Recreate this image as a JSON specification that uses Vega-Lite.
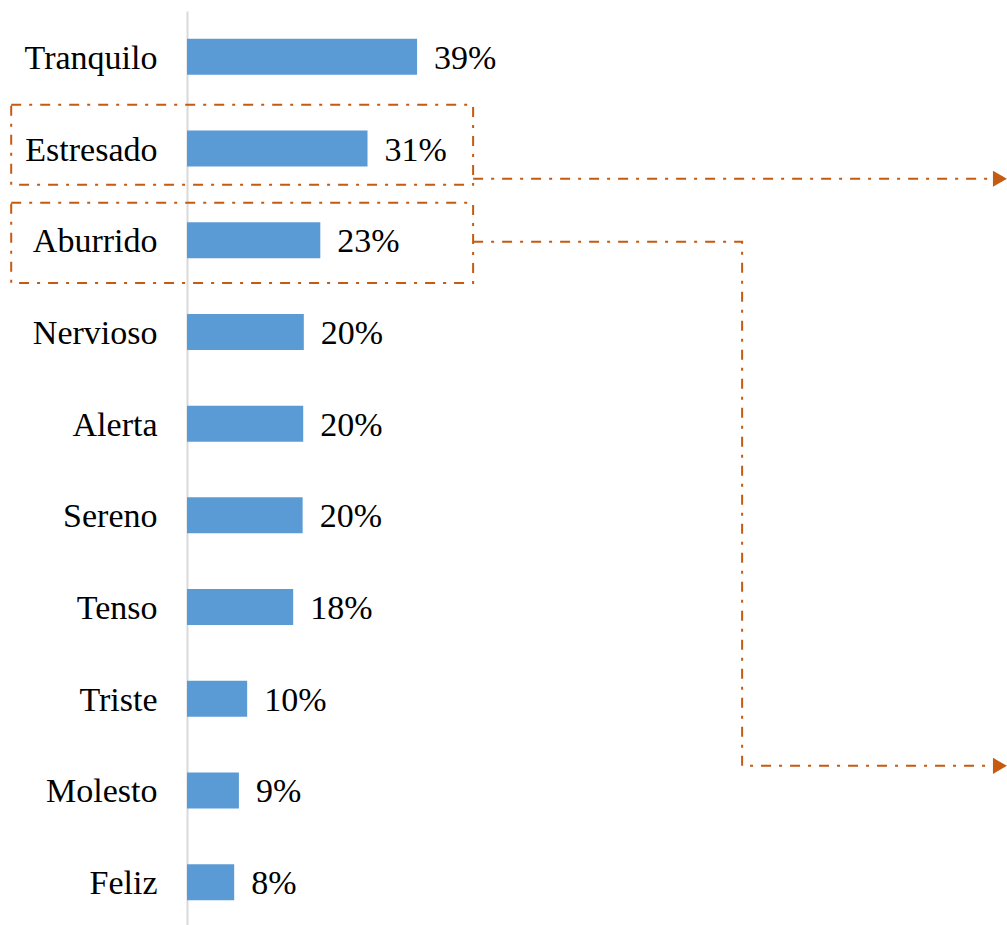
{
  "$schema": "https://vega.github.io/schema/vega-lite/v6.json",
  "autosize": "none",
  "width": 820,
  "height": 917,
  "padding": {"left": 187, "top": 11, "right": 0, "bottom": 0},
  "background": "white",
  "config": {"view": {"stroke": null}, "font": "Liberation Serif"},
  "resolve": {"scale": {"y": "independent"}},
  "layer": [
    {
      "data": {"values": [
        {"emocion": "Tranquilo", "pct": 0.39},
        {"emocion": "Estresado", "pct": 0.306},
        {"emocion": "Aburrido", "pct": 0.226},
        {"emocion": "Nervioso", "pct": 0.198},
        {"emocion": "Alerta", "pct": 0.197},
        {"emocion": "Sereno", "pct": 0.196},
        {"emocion": "Tenso", "pct": 0.18},
        {"emocion": "Triste", "pct": 0.102},
        {"emocion": "Molesto", "pct": 0.088},
        {"emocion": "Feliz", "pct": 0.08}
      ]},
      "encoding": {
        "y": {
          "field": "emocion", "type": "nominal", "sort": null,
          "scale": {"paddingInner": 0.607, "paddingOuter": 0.3035},
          "axis": {
            "title": null, "ticks": false, "labelPadding": 30, "labelOffset": 2,
            "labelFontSize": 34, "labelColor": "#000000", "labelFont": "Liberation Serif",
            "labelLimit": 0, "domainColor": "#D9D9D9", "domainWidth": 2
          }
        },
        "x": {"field": "pct", "type": "quantitative", "scale": {"domain": [0, 1.39], "nice": false}, "axis": null}
      },
      "layer": [
        {"mark": {"type": "bar", "color": "#5B9BD5"}},
        {
          "mark": {"type": "text", "align": "left", "baseline": "middle", "dx": 17, "dy": 2, "fontSize": 34, "color": "#000000", "font": "Liberation Serif"},
          "encoding": {"text": {"field": "pct", "type": "quantitative", "format": ".0%"}}
        }
      ]
    },
    {
      "data": {"values": [
        {"box": "Estresado", "x1": -0.298, "x2": 0.485, "y1": 1.023, "y2": 1.896},
        {"box": "Aburrido", "x1": -0.298, "x2": 0.485, "y1": 2.092, "y2": 2.965}
      ]},
      "mark": {"type": "rect", "fill": null, "stroke": "#C55A11", "strokeWidth": 2, "strokeDash": [10, 8, 3, 8]},
      "encoding": {
        "x": {"field": "x1", "type": "quantitative", "scale": {"domain": [0, 1.39], "nice": false}},
        "x2": {"field": "x2"},
        "y": {"field": "y1", "type": "quantitative", "scale": {"domain": [0, 10], "reverse": true, "nice": false, "zero": false}, "axis": null},
        "y2": {"field": "y2"}
      }
    },
    {
      "data": {"values": [
        {"path": "a", "i": 0, "x": 0.485, "y": 1.830},
        {"path": "a", "i": 1, "x": 1.37, "y": 1.830},
        {"path": "b", "i": 0, "x": 0.485, "y": 2.517},
        {"path": "b", "i": 1, "x": 0.941, "y": 2.517},
        {"path": "b", "i": 2, "x": 0.941, "y": 8.232},
        {"path": "b", "i": 3, "x": 1.37, "y": 8.232}
      ]},
      "mark": {"type": "line", "color": "#C55A11", "strokeWidth": 2, "strokeDash": [10, 8, 3, 8]},
      "encoding": {
        "x": {"field": "x", "type": "quantitative", "scale": {"domain": [0, 1.39], "nice": false}},
        "y": {"field": "y", "type": "quantitative", "scale": {"domain": [0, 10], "reverse": true, "nice": false, "zero": false}, "axis": null},
        "detail": {"field": "path"},
        "order": {"field": "i"}
      }
    },
    {
      "data": {"values": [
        {"x": 1.378, "y": 1.830},
        {"x": 1.378, "y": 8.232}
      ]},
      "mark": {"type": "point", "shape": "triangle-right", "filled": true, "color": "#C55A11", "size": 260, "opacity": 1},
      "encoding": {
        "x": {"field": "x", "type": "quantitative", "scale": {"domain": [0, 1.39], "nice": false}},
        "y": {"field": "y", "type": "quantitative", "scale": {"domain": [0, 10], "reverse": true, "nice": false, "zero": false}, "axis": null}
      }
    }
  ]
}
